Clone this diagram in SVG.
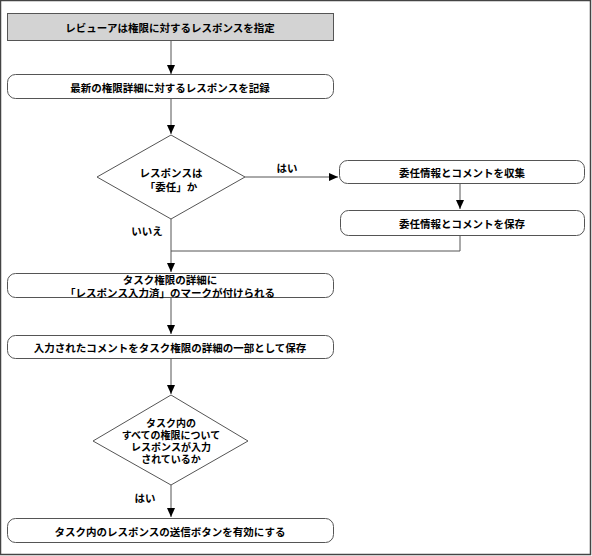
<svg xmlns="http://www.w3.org/2000/svg" width="592" height="556" viewBox="0 0 592 556">
<defs>
<marker id="ah" markerWidth="10" markerHeight="10" refX="9" refY="5" orient="auto" markerUnits="userSpaceOnUse">
<path d="M0,1 L9,5 L0,9 Z" fill="#000"/>
</marker>
<style>
.box{fill:#fff;stroke:#555;stroke-width:1}
.hdr{fill:#d3d3d3;stroke:#555;stroke-width:1}
.t{font-family:"Noto Sans CJK JP","Noto Sans",sans-serif;font-size:10.5px;font-weight:bold;fill:#000;text-anchor:middle;dominant-baseline:central}
.s{font-size:10px}
.c{fill:none;stroke:#555;stroke-width:1}
</style>
</defs>
<rect x="0.5" y="0.5" width="590" height="554" fill="#fff" stroke="#444" stroke-width="1.5"/>
<g id="connectors">
<path class="c" d="M171,40 V74" marker-end="url(#ah)"/>
<path class="c" d="M171,98 V134" marker-end="url(#ah)"/>
<path class="c" d="M245,177 H338" marker-end="url(#ah)"/>
<path class="c" d="M460,183 V209" marker-end="url(#ah)"/>
<path class="c" d="M460,235 V251 H171"/>
<path class="c" d="M171,219 V272" marker-end="url(#ah)"/>
<path class="c" d="M171,297 V334" marker-end="url(#ah)"/>
<path class="c" d="M171,358 V394" marker-end="url(#ah)"/>
<path class="c" d="M171,485 V517" marker-end="url(#ah)"/>
<text class="t" x="287" y="167">はい</text>
<text class="t" x="147" y="230">いいえ</text>
<text class="t" x="145" y="497">はい</text>
</g>
<g id="n1">
<rect class="hdr" x="7.5" y="13.5" width="326" height="27"/>
<text class="t" x="170" y="27">レビューアは権限に対するレスポンスを指定</text>
</g>
<g id="n2">
<rect class="box" x="7.5" y="74.5" width="326" height="24" rx="8"/>
<text class="t" x="170" y="87">最新の権限詳細に対するレスポンスを記録</text>
</g>
<g id="d1">
<polygon class="box" points="171,135 245,177 171,219 97,177"/>
<text class="t"><tspan x="171" y="172">レスポンスは</tspan><tspan x="171" y="186">「委任」か</tspan></text>
</g>
<g id="n3">
<rect class="box" x="339.5" y="160.5" width="245" height="23" rx="8"/>
<text class="t" x="462" y="172">委任情報とコメントを収集</text>
</g>
<g id="n4">
<rect class="box" x="340.5" y="210.5" width="244" height="25" rx="8"/>
<text class="t" x="462" y="223">委任情報とコメントを保存</text>
</g>
<g id="n5">
<rect class="box" x="7.5" y="273.5" width="326" height="24" rx="8"/>
<text class="t"><tspan x="170" y="279">タスク権限の詳細に</tspan><tspan x="170" y="292">「レスポンス入力済」のマークが付けられる</tspan></text>
</g>
<g id="n6">
<rect class="box" x="7.5" y="335.5" width="326" height="23" rx="8"/>
<text class="t" x="170" y="347">入力されたコメントをタスク権限の詳細の一部として保存</text>
</g>
<g id="d2">
<polygon class="box" points="171,395 248,441 171,485 93,441"/>
<text class="t s"><tspan x="171" y="421.5">タスク内の</tspan><tspan x="171" y="433.8">すべての権限について</tspan><tspan x="171" y="446.1">レスポンスが入力</tspan><tspan x="171" y="458.4">されているか</tspan></text>
</g>
<g id="n7">
<rect class="box" x="7.5" y="518.5" width="326" height="24" rx="8"/>
<text class="t" x="170" y="531">タスク内のレスポンスの送信ボタンを有効にする</text>
</g>
</svg>
